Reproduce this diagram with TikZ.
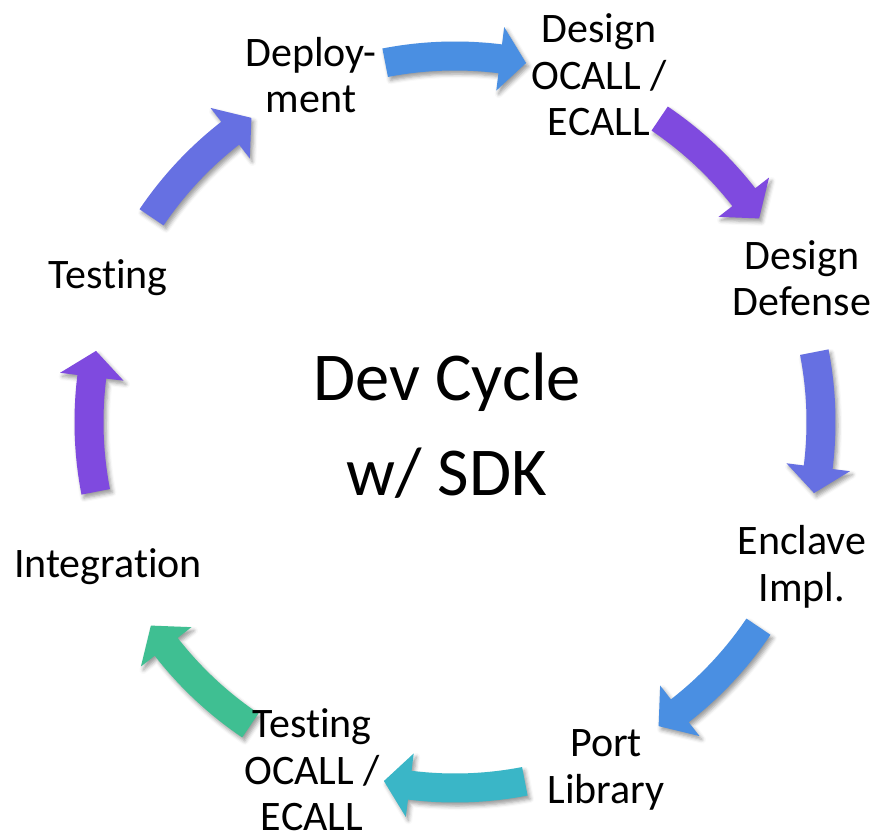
\documentclass[tikz,border=0pt]{standalone}
\usepackage{fontspec}
\setmainfont{Carlito}[Ligatures=NoCommon]
\usetikzlibrary{shadows.blur}
\definecolor{cBlue}{HTML}{4A8FE2}
\definecolor{cPurple}{HTML}{7F4ADF}
\definecolor{cViolet}{HTML}{6670E2}
\definecolor{cTeal}{HTML}{3AB6C7}
\definecolor{cGreen}{HTML}{3FBF92}
\tikzset{
  label/.style={align=center, font=\fontsize{42}{46.5}\selectfont, inner sep=0pt},
  centerlabel/.style={align=center, font=\fontsize{68.5}{95}\selectfont, inner sep=0pt},
  arrowshadow/.style={blur shadow={shadow xshift=2.5pt, shadow yshift=-3.5pt, shadow blur radius=4pt, shadow opacity=40}}
}
\begin{document}
\begin{tikzpicture}[x=1pt,y=-1pt]
\useasboundingbox (0,0) rectangle (876,832);
\begin{scope}[shift={(455,422)}]
\foreach \a/\c in {-90/cBlue,-45/cPurple,0/cViolet,45/cBlue,90/cTeal,135/cGreen,180/cPurple,225/cViolet}{
  \fill[\c, arrowshadow] ({\a-11}:380.5) arc[start angle={\a-11}, end angle={\a+7.1}, radius=380.5]
     -- ({\a+7.1}:398) -- ({\a+11.2}:366) -- ({\a+7.1}:334) -- ({\a+7.1}:351.5)
     arc[start angle={\a+7.1}, end angle={\a-11}, radius=351.5] -- cycle;
}
\end{scope}
\node[label] (deploy) at (311,75) {Deploy-\\ment};
\node[label] (designocall) at (599,75) {Design\\OCALL /\\ECALL};
\node[label] (defense) at (802,278) {Design\\Defense};
\node[label] (enclave) at (802,567) {Enclave\\Impl.};
\node[label] (port) at (606,770) {Port\\Library};
\node[label] (testocall) at (312,770) {Testing\\OCALL /\\ECALL};
\node[label] (integ) at (108,567) {Integration};
\node[label] (testing) at (108,278) {Testing};
\node[centerlabel] (center) at (447,426) {Dev Cycle\\w/ SDK};
\end{tikzpicture}
\end{document}
